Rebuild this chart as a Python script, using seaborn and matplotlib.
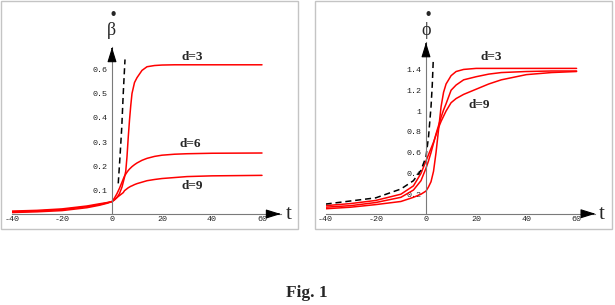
import numpy as np
import pandas as pd
import matplotlib.pyplot as plt
import seaborn as sns
from matplotlib.patches import ArrowStyle, Rectangle

# left panel: beta-dot vs t
beta_t = [-40, -30, -20, -10, -5, -2, 0, 1, 2, 3, 4, 4.5, 5, 5.5, 6, 6.5, 7, 7.5,
          8, 9, 10, 12, 14, 17, 20, 25, 30, 40, 60]
beta_d3 = [0.010, 0.013, 0.018, 0.030, 0.040, 0.048, 0.055, 0.062, 0.072, 0.088, 0.115,
           0.135, 0.155, 0.18, 0.24, 0.32, 0.39, 0.45, 0.50, 0.545, 0.565, 0.595, 0.610,
           0.615, 0.617, 0.618, 0.618, 0.618, 0.618]
beta_d6 = [0.013, 0.016, 0.022, 0.034, 0.043, 0.050, 0.055, 0.070, 0.088, 0.110, 0.135,
           0.148, 0.160, 0.168, 0.176, 0.183, 0.189, 0.194, 0.199, 0.207, 0.214, 0.225,
           0.233, 0.241, 0.246, 0.250, 0.252, 0.254, 0.255]
beta_d9 = [0.016, 0.019, 0.025, 0.037, 0.046, 0.051, 0.055, 0.063, 0.072, 0.080, 0.088,
           0.092, 0.100, 0.104, 0.108, 0.112, 0.115, 0.118, 0.120, 0.125, 0.129, 0.135,
           0.141, 0.146, 0.150, 0.154, 0.158, 0.161, 0.163]
beta_dash_t = [2.5, 3.2, 3.9, 4.5, 5.2]
beta_dash = [0.13, 0.24, 0.36, 0.50, 0.64]

# right panel: phi-dot vs t
phi_t = [-40, -30, -20, -10, -5, -2, 0, 1, 2, 3, 4, 5, 6, 7, 8, 10, 12, 15, 20, 25,
         30, 40, 50, 60]
phi_d3 = [0.06, 0.075, 0.10, 0.13, 0.17, 0.20, 0.23, 0.27, 0.32, 0.42, 0.60, 0.82,
          1.04, 1.18, 1.26, 1.34, 1.38, 1.40, 1.41, 1.41, 1.41, 1.41, 1.41, 1.41]
phi_d6 = [0.075, 0.09, 0.12, 0.17, 0.24, 0.33, 0.45, 0.52, 0.60, 0.69, 0.78, 0.86,
          0.94, 1.01, 1.07, 1.20, 1.25, 1.30, 1.33, 1.355, 1.37, 1.38, 1.385, 1.385]
phi_d9 = [0.09, 0.11, 0.14, 0.20, 0.28, 0.40, 0.52, 0.58, 0.64, 0.70, 0.77, 0.84,
          0.90, 0.95, 1.00, 1.08, 1.12, 1.16, 1.21, 1.26, 1.30, 1.35, 1.37, 1.38]
phi_dash_t = [-40, -30, -20, -10, -5, -2, 0, 1, 2, 2.5, 2.9]
phi_dash = [0.105, 0.135, 0.165, 0.25, 0.33, 0.43, 0.56, 0.75, 1.04, 1.25, 1.49]

d_names = ['d=3', 'd=6', 'd=9']
x_ticks = [-40, -20, 0, 20, 40, 60]
beta_yticks = [0.1, 0.2, 0.3, 0.4, 0.5, 0.6]
beta_ylabels = ['0.1', '0.2', '0.3', '0.4', '0.5', '0.6']
phi_yticks = [0.2, 0.4, 0.6, 0.8, 1.0, 1.2, 1.4]
phi_ylabels = ['0.2', '0.4', '0.6', '0.8', '1', '1.2', '1.4']

sns.set_style('white')
plt.rcParams['font.family'] = ['Liberation Serif', 'DejaVu Serif']

W, H = 615, 305
fig = plt.figure(figsize=(W / 100, H / 100), dpi=100)


def box(x0, y0, x1, y1):
    return [x0 / W, 1 - y1 / H, (x1 - x0) / W, (y1 - y0) / H]


def panel(rect, t, curves, dash_t, dash_v, xlim, ylim, yticks, ylabels):
    ax = fig.add_axes(rect)
    df = pd.DataFrame({
        't': np.tile(t, len(curves)),
        'v': np.concatenate(curves),
        'd': np.repeat(d_names, len(t)),
    })
    sns.lineplot(data=df, x='t', y='v', units='d', estimator=None, color='red',
                 linewidth=1.1, ax=ax)
    sns.lineplot(x=dash_t, y=dash_v, color='black', linewidth=1.1,
                 linestyle=(0, (4, 2.5)), ax=ax)
    ax.set_xlim(*xlim)
    ax.set_ylim(*ylim)
    ax.set_xlabel('')
    ax.set_ylabel('')
    ax.set_facecolor('none')
    for s in ['top', 'right']:
        ax.spines[s].set_visible(False)
    ax.spines['left'].set_position(('data', 0))
    for s in ['left', 'bottom']:
        ax.spines[s].set_color('#7a7a7a')
        ax.spines[s].set_linewidth(0.8)
    ax.set_xticks(x_ticks, [str(v) for v in x_ticks])
    ax.set_xticks(np.arange(-40, 61, 5), minor=True)
    ax.set_yticks(yticks, ylabels)
    ax.tick_params(axis='both', which='both', direction='in', color='#7a7a7a',
                   width=0.6, labelsize=6, labelcolor='#222222',
                   labelfontfamily='Liberation Mono')
    ax.tick_params(which='major', length=3)
    ax.tick_params(which='minor', length=1.6)
    ax.tick_params(axis='x', pad=1.5)
    ax.tick_params(axis='y', pad=3)
    head = ArrowStyle('-|>', head_length=0.9, head_width=0.28)
    ap = dict(arrowstyle=head, mutation_scale=10, color='black', lw=0.8,
              shrinkA=0, shrinkB=0)
    ax.annotate('', xy=(xlim[1], ylim[0]), xytext=(xlim[1] - 1, ylim[0]),
                arrowprops=ap, annotation_clip=False)
    ax.annotate('', xy=(0, ylim[1]), xytext=(0, ylim[1] - 0.01 * ylim[1]),
                arrowprops=ap, annotation_clip=False)
    return ax


ax1 = panel(box(12, 47.3, 280.75, 214), beta_t, [beta_d3, beta_d6, beta_d9],
            beta_dash_t, beta_dash, (-40, 67.5), (0.004, 0.69),
            beta_yticks, beta_ylabels)
ax2 = panel(box(325.6, 42.4, 595.4, 213.75), phi_t, [phi_d3, phi_d6, phi_d9],
            phi_dash_t, phi_dash, (-40, 67.5), (0.012, 1.66),
            phi_yticks, phi_ylabels)

lab = dict(ha='center', va='center', fontsize=9.5, fontweight='bold')
ax1.text(32, 0.65, d_names[0], **lab)
ax1.text(31.2, 0.292, d_names[1], **lab)
ax1.text(32, 0.119, d_names[2], **lab)
ax2.text(26.1, 1.52, d_names[0], **lab)
ax2.text(21.1, 1.06, d_names[2], **lab)

# dotted symbol as one two-line text (dot above the letter)
sym = dict(ha='center', va='center', fontsize=13, linespacing=0.85,
           multialignment='center')
ax1.text(-0.2, 0.79, ' •\nβ', **sym)
ax2.text(0.2, 1.85, ' •\nϕ', **sym)
ax1.text(70.8, -0.016, 't', ha='center', va='baseline', fontsize=15)
ax2.text(70.1, -0.038, 't', ha='center', va='baseline', fontsize=15)

for x0, x1 in [(1, 298), (315, 612)]:
    fig.add_artist(Rectangle((x0 / W, 1 - 229 / H), (x1 - x0) / W, 228 / H,
                             transform=fig.transFigure, fill=False,
                             edgecolor='#c4c4c4', lw=1.0))

fig.text(307 / W, 1 - 293 / H, 'Fig. 1', ha='center', va='center',
         fontsize=12.5, fontweight='bold')

fig.savefig('out.png', dpi=100)
